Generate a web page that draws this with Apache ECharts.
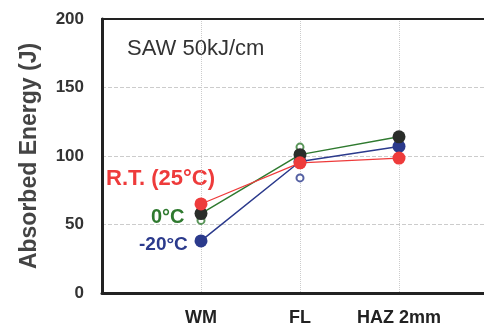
<!DOCTYPE html>
<html><head><meta charset="utf-8">
<script src="https://cdn.jsdelivr.net/npm/echarts@6/dist/echarts.min.js"></script>
<style>html,body{margin:0;padding:0;background:#fff;overflow:hidden}#c{width:484px;height:327px}</style>
</head><body><div id="c"></div>
<script>
var categories = ['WM', 'FL', 'HAZ 2mm'];
var yTicks = [0, 50, 100, 150, 200];
var rtValues = [65, 95, 98.5];
var zeroValues = [58, 101, 114];
var m20Values = [38, 96, 107];
// individual open-symbol specimens [categoryIndex, value]
var zeroOpen = [[0, 53], [1, 106.5]];
var m20Open = [[1, 84]];

function pts(arr){ return arr.map(function(v,i){ return [i+1, v]; }); }
function opts(arr){ return arr.map(function(p){ return [p[0]+1, p[1]]; }); }

var chart = echarts.init(document.getElementById('c'));
var RED = '#ee3b3b', GREEN = '#2f7a2f', BLUE = '#2b3a8c', DARK = '#2a2d2a';
chart.setOption({
  animation: false,
  grid: { left: 102, top: 19, height: 274, width: 396, outerBoundsMode: 'none', containLabel: false,
    show: false },
  xAxis: [{
    type: 'value', min: 0, max: 4, interval: 1,
    axisLine: { show: true, lineStyle: { color: '#222', width: 3 } },
    axisTick: { show: false },
    splitLine: { show: true, lineStyle: { color: '#ccc', type: 'dotted', width: 1 } },
    axisLabel: { margin: 16, color: '#222', fontWeight: 'bold', fontSize: 18, fontFamily: 'Liberation Sans',
      formatter: function(v){ return (v >= 1 && v <= categories.length) ? categories[v-1] : ''; } }
  }, {
    type: 'value', position: 'top', min: 0, max: 4, interval: 1,
    axisLine: { show: true, onZero: false, lineStyle: { color: '#222', width: 2 } },
    axisTick: { show: false }, splitLine: { show: false }, axisLabel: { show: false }
  }],
  yAxis: {
    type: 'value', min: 0, max: 200, interval: 50,
    name: 'Absorbed Energy (J)', nameLocation: 'middle', nameGap: 61,
    nameTextStyle: { fontSize: 23, fontWeight: 'bold', color: '#444', fontFamily: 'Liberation Sans' },
    axisLine: { show: true, lineStyle: { color: '#222', width: 3 } },
    axisTick: { show: false },
    splitLine: { show: true, lineStyle: { color: '#ccc', type: 'dashed', width: 1 } },
    axisLabel: { margin: 18, color: '#333', fontWeight: 'bold', fontSize: 17, fontFamily: 'Liberation Sans',
      formatter: function(v){ return yTicks.indexOf(v) >= 0 ? String(v) : ''; } }
  },
  series: [
    { type: 'line', name: '0°C', data: pts(zeroValues), symbol: 'circle', symbolSize: 13,
      lineStyle: { color: GREEN, width: 1.5 }, itemStyle: { color: DARK }, z: 3 },
    { type: 'line', name: '-20°C', data: pts(m20Values), symbol: 'circle', symbolSize: 13,
      lineStyle: { color: BLUE, width: 1.5 }, itemStyle: { color: BLUE }, z: 2 },
    { type: 'line', name: 'R.T.', data: pts(rtValues), symbol: 'circle', symbolSize: 13,
      lineStyle: { color: RED, width: 1.2 }, itemStyle: { color: RED }, z: 4 },
    { type: 'scatter', data: opts(zeroOpen), symbol: 'emptyCircle', symbolSize: 7,
      itemStyle: { color: GREEN, borderWidth: 2 }, z: 1 },
    { type: 'scatter', data: opts(m20Open), symbol: 'emptyCircle', symbolSize: 7,
      itemStyle: { color: BLUE, borderWidth: 2 }, z: 1 }
  ],
  graphic: [
    { type: 'text', left: 127, top: 38, style: { text: 'SAW 50kJ/cm', font: '22px "Liberation Sans"', fill: '#333' } },
    { type: 'text', left: 106, top: 168, style: { text: 'R.T. (25°C)', font: 'bold 22px "Liberation Sans"', fill: RED } },
    { type: 'text', left: 151, top: 207, style: { text: '0°C', font: 'bold 20px "Liberation Sans"', fill: GREEN } },
    { type: 'text', left: 139, top: 235, style: { text: '-20°C', font: 'bold 19px "Liberation Sans"', fill: BLUE } }
  ]
});
</script></body></html>
